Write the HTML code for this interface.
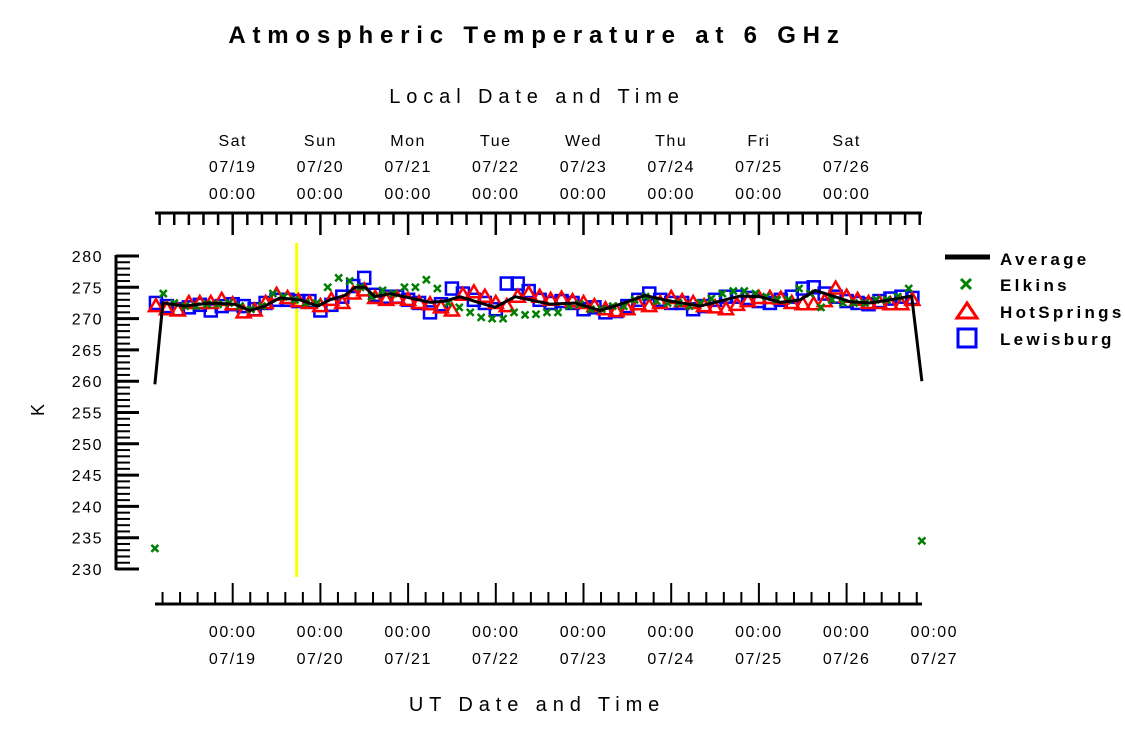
<!DOCTYPE html>
<html><head><meta charset="utf-8"><style>
body{margin:0;background:#fff}
svg{display:block;font-family:"Liberation Sans",sans-serif}
</style></head><body>
<svg id="chart" width="1125" height="731" viewBox="0 0 1125 731">
<text x="537" y="43" text-anchor="middle" font-size="24" font-weight="bold" letter-spacing="6.8">Atmospheric Temperature at 6 GHz</text>
<text x="537" y="103" text-anchor="middle" font-size="20" letter-spacing="5.9">Local Date and Time</text>
<text x="537" y="711" text-anchor="middle" font-size="20" letter-spacing="5.9">UT Date and Time</text>
<text x="44" y="410" text-anchor="middle" font-size="18" transform="rotate(-90 44 410)">K</text>
<g id="axes"></g>
<g id="marks"></g>
<g font-size="17" font-weight="bold" letter-spacing="3.3">
<line x1="945" y1="257" x2="990" y2="257" stroke="#000" stroke-width="5"/>
<text x="1000" y="265">Average</text>
<path d="M961 279 l10 10 M971 279 l-10 10" stroke="#008000" stroke-width="3"/>
<text x="1000" y="291">Elkins</text>
<path d="M967 303 l10 15 h-20 z" fill="none" stroke="#f00" stroke-width="3"/>
<text x="1000" y="318">HotSprings</text>
<rect x="958" y="329" width="18" height="18" fill="none" stroke="#00f" stroke-width="3"/>
<text x="1000" y="345">Lewisburg</text>
</g>
</svg>
<script>
const yTicks=[230,235,240,245,250,255,260,265,270,275,280];
const dayNames=["Sat","Sun","Mon","Tue","Wed","Thu","Fri","Sat"];
const localDates=["07/19","07/20","07/21","07/22","07/23","07/24","07/25","07/26"];
const utDates=["07/19","07/20","07/21","07/22","07/23","07/24","07/25","07/26","07/27"];
const avgTimes=[2.7,4.9,10.9,17.8,24.6,28.7,32.8,36.9,42.4,47.3,50.6,54.7,57.5,60.2,62.9,67.1,72.5,78,82.1,86.2,91.7,95.8,101.3,105.4,110.8,117.7,124.5,128.6,136.8,143.7,151.9,157.4,162.8,168.3,173.8,179.3,183.4,188.8,192.9,198.4,203.9,209.8,212.6];
const avgValues=[259.5,272.5,272,272.5,272.3,271.3,272,273.3,273,272,273,273.7,275,275,273.5,274,273.3,272.6,272.8,273.5,272.5,271.8,273.5,273,272.3,272.5,271.3,272,273.7,272.8,272,272.8,273.6,273.5,272.6,273,274.5,273.5,272.7,272.5,273,273.6,260];
const elkTimes=[2.7,5,8,11,14,17,20,23,26,29,32,35,38,41,44,47,50,53,56,59,62,65,68,71,74,77,80,83,86,89,92,95,98,101,104,107,110,113,116,119,122,125,128,131,134,137,140,143,146,149,152,155,158,161,164,167,170,173,176,179,182,185,188,191,194,197,200,203,206,209,212.6];
const elkValues=[233.3,274,272.5,272,272,272.3,272.3,272.5,272,271.5,272,274,273.5,273,272.5,272.5,275,276.5,276,275,273.5,274.5,274,275,275,276.2,274.8,272.5,271.8,271,270.2,270,270,271,270.6,270.7,271,271,272,272.3,271.5,271.5,272,272,273,273.5,272.8,272.5,272.5,272,272.5,273.2,274,274.4,274.4,274,273.5,273,273,274.8,274,271.8,273,272.5,272.5,272.5,273,273,273.5,274.8,234.5];
const hsTimes=[3,6,9,12,15,18,21,24,27,30,33,36,39,42,45,48,51,54,57,60,63,66,69,72,75,78,81,84,87,90,93,96,99,102,105,108,111,114,117,120,123,126,129,132,135,138,141,144,147,150,153,156,159,162,165,168,171,174,177,180,183,186,189,192,195,198,201,204,207,210];
const hsValues=[272,271.5,271.3,272.5,272.5,272.5,273,272.3,271,271.3,272.5,273.8,273.3,272.8,272.5,272,273,272.5,274,274.5,273.3,273,273.3,273,272.5,272.3,271.8,271.3,273.8,274.2,273.5,272.5,272,273.5,274,273.5,273,273.2,272.8,272.5,272,271.5,271.2,271.5,272.3,272,272.5,273.3,272.8,272.5,272,271.8,271.5,272.2,272.8,273.3,273.3,273.2,272.5,272.3,272.3,272.8,274.8,273.5,273,272.5,272.5,272.3,272.3,273];
const lewTimes=hsTimes;
const lewValues=[272.5,272,271.5,271.8,272.2,271.3,272,272.3,272,271.5,272.5,273,273,272.8,272.8,271.3,272.2,273.5,275.2,276.5,273.8,273.5,273.5,273,272.5,271,272.3,274.8,274,273,272.5,271.5,275.6,275.6,274.4,273,272.5,272.8,272.5,271.5,271.8,271,271.2,272,273,274,273,272.5,272.5,271.5,272,273,273.5,273.5,273.3,272.8,272.5,273,273.5,274.8,275,274,273.5,272.8,272.5,272.3,272.8,273.2,273.5,273.3];
const markerTime=41.5;

const NS="http://www.w3.org/2000/svg";
const xS=h=>145+h*87.7/24;
const yS=v=>256+(280-v)*6.26;
function mk(p,tag,at){const e=document.createElementNS(NS,tag);for(const k in at)e.setAttribute(k,at[k]);p.appendChild(e);return e;}
const ax=document.getElementById('axes'),mg=document.getElementById('marks');
let yl=mk(ax,'line',{x1:116,y1:yS(280)-1,x2:116,y2:yS(230)+1,stroke:'#000','stroke-width':3});

for(let v=230;v<=280;v++){const maj=v%5===0;const t=mk(ax,'line',{x1:116,y1:yS(v),x2:maj?139:130,y2:yS(v),stroke:'#000','stroke-width':maj?3:2});
}
yTicks.forEach(v=>{const t=mk(ax,'text',{x:103,y:yS(v)+6,'text-anchor':'end','font-size':16,'letter-spacing':1.5});t.textContent=v;
});
let bl=mk(ax,'line',{x1:155,y1:604,x2:922,y2:604,stroke:'#000','stroke-width':3});

for(let d=0;d<=9;d++){for(let k=0;k<5;k++){const h=d*24+k*4.8;const x=xS(h);if(x<158||x>923)continue;
const t=mk(ax,'line',{x1:x,y1:604,x2:x,y2:k===0?583:592,stroke:'#000','stroke-width':2});
}}
utDates.forEach((d,i)=>{const x=xS((i+1)*24);
const a=mk(ax,'text',{x:x,y:637,'text-anchor':'middle','font-size':16,'letter-spacing':1.5});a.textContent='00:00';

const b=mk(ax,'text',{x:x,y:664,'text-anchor':'middle','font-size':16,'letter-spacing':1.5});b.textContent=d;
});
let tl=mk(ax,'line',{x1:155,y1:213,x2:922,y2:213,stroke:'#000','stroke-width':3});

for(let d=0;d<=9;d++){for(let k=0;k<6;k++){const h=d*24+k*4;const x=xS(h);if(x<158||x>923)continue;
const t=mk(ax,'line',{x1:x,y1:213,x2:x,y2:k===0?235:225,stroke:'#000','stroke-width':2.5});
}}
dayNames.forEach((n,i)=>{const x=xS((i+1)*24);
[[n,146],[localDates[i],172],['00:00',199]].forEach(([s,y],j)=>{const t=mk(ax,'text',{x:x,y:y,'text-anchor':'middle','font-size':16,'letter-spacing':1.5});t.textContent=s;
});});
let ym=mk(mg,'line',{x1:xS(markerTime),y1:243,x2:xS(markerTime),y2:577,stroke:'#ff0','stroke-width':3});

lewTimes.forEach((h,i)=>{if(lewValues[i]===undefined)return;const r=mk(mg,'rect',{x:xS(h)-6,y:yS(lewValues[i])-6,width:12,height:12,fill:'none',stroke:'#00f','stroke-width':2.5});
});
hsTimes.forEach((h,i)=>{if(hsValues[i]===undefined)return;const x=xS(h),y=yS(hsValues[i]);
const p=mk(mg,'path',{d:`M${x} ${y-7} L${x+7} ${y+5} L${x-7} ${y+5} Z`,fill:'none',stroke:'#f00','stroke-width':2.5});
});
elkTimes.forEach((h,i)=>{if(elkValues[i]===undefined)return;const x=xS(h),y=yS(elkValues[i]);
const p=mk(mg,'path',{d:`M${x-3.5} ${y-3.5} L${x+3.5} ${y+3.5} M${x+3.5} ${y-3.5} L${x-3.5} ${y+3.5}`,stroke:'#008000','stroke-width':2.5});
});
const avgPath=mk(mg,'polyline',{points:avgTimes.map((h,i)=>xS(h)+','+yS(avgValues[i])).join(' '),fill:'none',stroke:'#000','stroke-width':3,'stroke-linejoin':'round'});


</script>
</body></html>
